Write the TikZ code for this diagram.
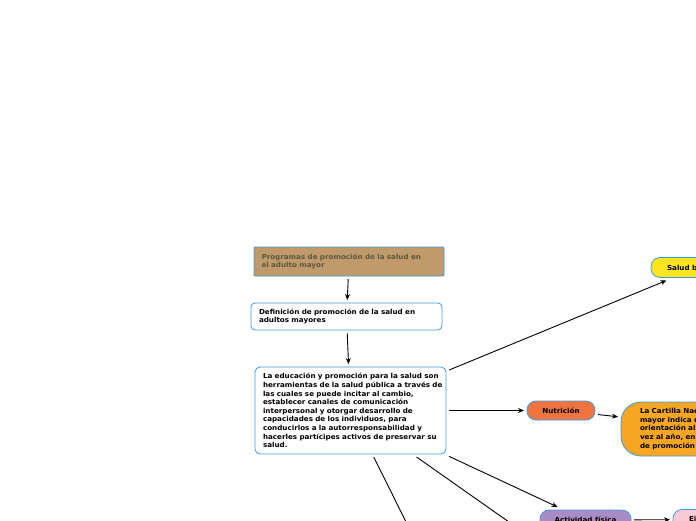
\documentclass[tikz,border=0pt]{standalone}
\usepackage{fontspec}
\setmainfont{DejaVu Sans}[FakeStretch=1.04]
\usetikzlibrary{arrows.meta}

\definecolor{boxline}{HTML}{3D9BE0}
\definecolor{rootfill}{HTML}{C19A6B}
\definecolor{roottext}{HTML}{5A5A3C}
\definecolor{saludfill}{HTML}{FFE51E}
\definecolor{nutrifill}{HTML}{F07440}
\definecolor{cartifill}{HTML}{F6A623}
\definecolor{actifill}{HTML}{A98CC6}
\definecolor{pinkfill}{HTML}{F9C9D5}

\tikzset{
  box/.style={rectangle,draw=boxline,line width=0.8pt,font=\bfseries\fontsize{6.9}{8.6}\selectfont,align=left,outer sep=3pt},
  pill/.style={box,rounded corners=9pt,align=center,inner sep=2pt},
  link/.style={line width=0.9pt,-{Stealth[length=6pt,width=5pt]}},
  plain/.style={line width=0.9pt}
}

\begin{document}
\begin{tikzpicture}[x=1pt,y=-1pt]
\useasboundingbox (0,0) rectangle (696,520);
\clip (0,0) rectangle (696,520);

\node[box,fill=rootfill,text=roottext,rounded corners=1pt,text width=175pt,inner xsep=7.5pt,minimum height=29pt] (prog) at (349,261.5){\mbox{Programas de promoción de la salud en}\\el adulto mayor};

\node[box,fill=white,rounded corners=4pt,text width=175pt,inner xsep=8pt,minimum height=27pt] (defi) at (346.5,316.5){\mbox{Definición de promoción de la salud en}\\adultos mayores};

\node[box,fill=white,rounded corners=5pt,text width=175pt,inner xsep=8pt,minimum height=87pt] (educ) at (350.5,410.5){\mbox{La educación y promoción para la salud son}\\\mbox{herramientas de la salud pública a través de}\\\mbox{las cuales se puede incitar al cambio,}\\\mbox{establecer canales de comunicación}\\\mbox{interpersonal y otorgar desarrollo de}\\\mbox{capacidades de los individuos, para}\\\mbox{conducirlos a la autorresponsabilidad y}\\\mbox{hacerles partícipes activos de preservar su}\\salud.};

\node[pill,fill=saludfill,align=left,text width=62pt,inner xsep=16pt,minimum height=20pt] (bucal) at (698,267.5){Salud bucal};

\node[pill,fill=nutrifill,minimum width=68pt,minimum height=19pt] (nutri) at (561,410.5){Nutrición};

\node[box,fill=cartifill,rounded corners=20pt,text width=180pt,inner xsep=19pt,minimum height=54pt] (carti) at (730,429){\mbox{La Cartilla Nacional de Salud del adulto}\\mayor indica dar una\\orientación alimentaria una\\vez al año, en las acciones\\de promoción de la salud};

\node[pill,fill=actifill,minimum width=91pt,minimum height=20pt] (acti) at (585.5,520){Actividad física};

\node[pill,fill=pinkfill,align=left,text width=62pt,inner xsep=16pt,minimum height=20pt] (ejer) at (720,519.5){Ejercicio};

\coordinate (abajo1) at (440,590);
\coordinate (abajo2) at (563,560);

\draw[link] (prog) -- (defi);
\draw[link] (defi) -- (educ);
\draw[link] (educ) -- (bucal);
\draw[link] (educ) -- (nutri);
\draw[link] (nutri) -- (carti);
\draw[link] (educ) -- (acti);
\draw[link] (acti) -- (ejer);
\draw[plain] (educ) -- (abajo1);
\draw[plain] (educ) -- (abajo2);

\end{tikzpicture}
\end{document}
